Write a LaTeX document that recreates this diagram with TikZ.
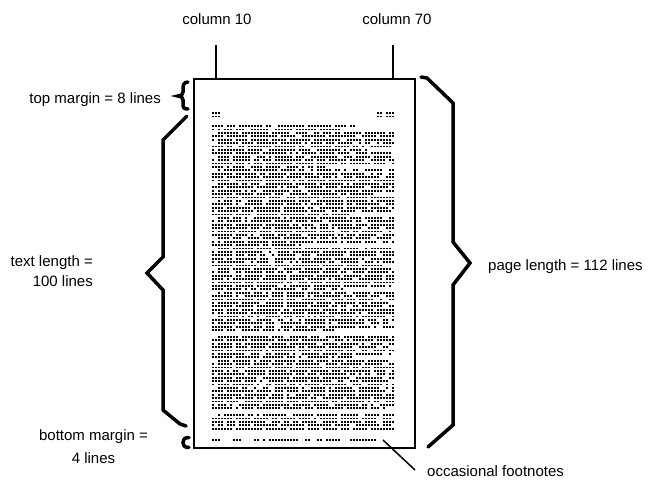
\documentclass[tikz,border=0pt]{standalone}
\usepackage{fontspec}
\setmainfont{Liberation Sans}
\newcount\wcol \newcount\wend \newcount\lend
\def\rowy{0}
\newcommand\wordstep{%
  \pgfmathrandominteger{\wlen}{1}{9}%
  \wend=\wcol \advance\wend by \wlen \advance\wend by -1
  \ifnum\wend>\lend \wend=\lend\fi
  \draw[dotrow] ({210+3*\the\wcol-1},\rowy) -- ({210+3*\the\wend+1},\rowy);
  \pgfmathrandominteger{\wsp}{1}{5}%
  \advance\wend by 2
  \ifnum\wsp=5 \advance\wend by 1\fi
  \wcol=\wend
  \ifnum\wcol>\lend\else\expandafter\wordstep\fi
}
\newcommand\wordrow[3]{%
  \pgfmathsetmacro\rowy{126+3.4*#1}%
  \pgfmathtruncatemacro\rowseed{#1*37+11}%
  \pgfmathsetseed{\rowseed}%
  \wcol=#2\relax \lend=#3\relax
  \ifnum\lend=60 \lend=61\fi
  \wordstep
}
\begin{document}
\begin{tikzpicture}[x=1pt,y=-1pt,
  lbl/.style={font=\fontsize{15}{18}\selectfont, inner sep=0pt},
  dotrow/.style={line width=1.8pt, dash pattern=on 2pt off 1pt, line cap=butt},
  bracestroke/.style={line width=3.5pt, line join=miter, line cap=round},
  thinline/.style={line width=1.5pt}]
\useasboundingbox (0,0) rectangle (649,480);

% page
\node[draw, line width=2pt, minimum width=221pt, minimum height=369pt, inner sep=0pt, anchor=north west] (page) at (193,78) {};

% column markers
\node[lbl, anchor=base] (col10) at (217,24) {column 10};
\node[lbl, anchor=base] (col70) at (397,24) {column 70};
\coordinate (c10) at (216,45);
\coordinate (c70) at (393,45);
\draw[thinline] (c10) -- (c10 |- page.north);
\draw[thinline] (c70) -- (c70 |- page.north);

% header
\foreach \yy in {113,116.5} {
  \draw[dotrow] ({210+3*1-1},\yy) -- ({210+3*3+1},\yy);
  \draw[dotrow] ({210+3*56-1},\yy) -- ({210+3*57+1},\yy);
  \draw[dotrow] ({210+3*59-1},\yy) -- ({210+3*61+1},\yy);
}

% body text rows
\foreach \n/\a/\b in {0/1/48, 1/1/43, 2/3/60, 3/1/60, 4/1/60, 5/3/60, 6/1/60, 7/1/52, 8/1/60, 9/3/60,
  10/1/60, 11/1/60, 12/1/38, 13/3/60, 14/1/60, 15/1/60, 16/1/60, 17/3/60, 18/1/60, 19/1/60,
  20/1/55, 21/1/60, 22/3/60, 23/1/60, 24/1/60, 25/1/60, 26/1/47, 27/3/60, 28/1/60, 29/1/60,
  30/1/60, 31/1/60, 32/1/60, 33/3/60, 34/1/60, 35/1/30, 36/3/60, 37/1/60, 38/1/60, 39/1/60,
  40/1/60, 41/1/57, 42/3/60, 43/1/60, 44/1/60, 45/1/60, 46/1/60, 47/1/60, 48/1/44, 49/3/60,
  50/1/60, 51/1/60, 52/1/60, 53/1/60, 54/1/60, 55/1/60, 56/3/60, 57/1/60, 58/1/60, 59/1/60,
  60/1/41, 62/3/60, 63/1/60, 64/1/60, 65/1/60, 66/1/60, 67/1/60, 68/1/49, 69/3/60,
  70/1/60, 71/1/60, 72/1/60, 73/1/60, 74/1/60, 75/1/60, 76/1/60, 77/3/60, 78/1/60, 79/1/60,
  80/1/60, 81/1/60, 82/1/60, 83/1/58, 85/3/60, 86/1/60, 87/1/60, 88/1/60, 89/1/60} {
  \wordrow{\n}{\a}{\b}
}

% footnote row
\foreach \a/\b in {1/3, 8/10, 15/16, 18/18, 20/29, 32/33, 36/37, 39/43, 47/55} {
  \draw[dotrow] ({210+3*\a-1},440) -- ({210+3*\b+1},440);
}

% braces
\draw[bracestroke] (188,82) .. controls (183,82) and (183,86) .. (183,90) -- (183,92)
  .. controls (183,95) and (181,96) .. (178,96) .. controls (181,96) and (183,97) .. (183,100)
  -- (183,104) .. controls (183,108) and (184,109) .. (188,109);
\draw[bracestroke] (187,116) -- (163,140) -- (163,257) -- (147,273) -- (163,290) -- (163,410) -- (180,424) -- (186,426);
\draw[bracestroke] (189,437.5) .. controls (184,437.5) and (183,440) .. (183,442.5)
  .. controls (183,445) and (184,447.5) .. (189,447.5);
\draw[bracestroke] (421,77) -- (427,78) -- (453,103) -- (453,242) -- (470,263) -- (453,285) -- (453,425) -- (428,447);

% labels
\node[lbl, anchor=base east] (topm) at (161,103) {top margin = 8 lines};
\node[lbl, font=\fontsize{15}{20}\selectfont, align=right, anchor=north east] (textl) at (93,255.3) {text length =\\100 lines};
\node[lbl, font=\fontsize{15}{23}\selectfont, align=center, anchor=north] (botm) at (93.5,429.3) {bottom margin =\\4 lines};
\node[lbl, anchor=base west] (pagel) at (488,270) {page length = 112 lines};
\node[lbl, anchor=base west] (fnl) at (427,476) {occasional footnotes};

% footnote connector
\coordinate (fn) at (383,440);
\coordinate (fnend) at (415,470);
\draw[thinline] (fn) -- (fnend);
\end{tikzpicture}
\end{document}
